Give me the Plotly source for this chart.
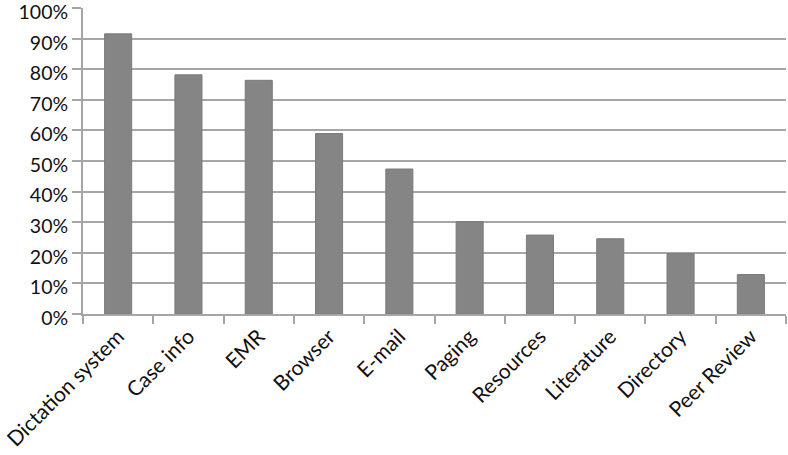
import plotly.graph_objects as go

categories = ["Dictation system", "Case info", "EMR", "Browser", "E-mail",
              "Paging", "Resources", "Literature", "Directory", "Peer Review"]
values = [0.916, 0.782, 0.764, 0.590, 0.474, 0.302, 0.258, 0.246, 0.197, 0.129]
tick_vals = [0, 0.1, 0.2, 0.3, 0.4, 0.5, 0.6, 0.7, 0.8, 0.9, 1.0]
tick_text = ["0%", "10%", "20%", "30%", "40%", "50%", "60%", "70%", "80%", "90%", "100%"]

fig = go.Figure(go.Bar(
    x=categories, y=values,
    marker=dict(color="#858585", line=dict(color="#7a7a7a", width=1)),
))

fig.update_layout(
    width=788, height=455,
    margin=dict(l=83, r=2, t=8, b=141),
    paper_bgcolor="white", plot_bgcolor="white",
    bargap=0.615,
    showlegend=False,
    font=dict(family="Lato, 'Open Sans', sans-serif", color="#111111"),
)
fig.update_yaxes(
    range=[0, 1.0005], tickvals=tick_vals, ticktext=tick_text,
    showgrid=True, gridcolor="#a6a6a6", gridwidth=2,
    showline=True, linecolor="#a6a6a6", linewidth=2,
    ticks="outside", ticklen=9, tickcolor="#a6a6a6", tickwidth=2,
    tickfont=dict(size=19.5, family="Lato, sans-serif", color="#111111"),
    zeroline=False, automargin=False, ticklabeloverflow="allow",
    ticklabelshift=4,
)
fig.update_xaxes(
    tickangle=-45, tickson="boundaries",
    showline=True, linecolor="#a6a6a6", linewidth=2,
    ticks="outside", ticklen=8, tickcolor="#a6a6a6", tickwidth=2,
    tickfont=dict(size=21, family="Lato, sans-serif", color="#111111"),
    automargin=False, ticklabeloverflow="allow",
)

fig.write_html(
    "out.html",
    config={"displayModeBar": False},
    post_script="document.body.style.margin='0';document.body.style.overflow='hidden';",
)
